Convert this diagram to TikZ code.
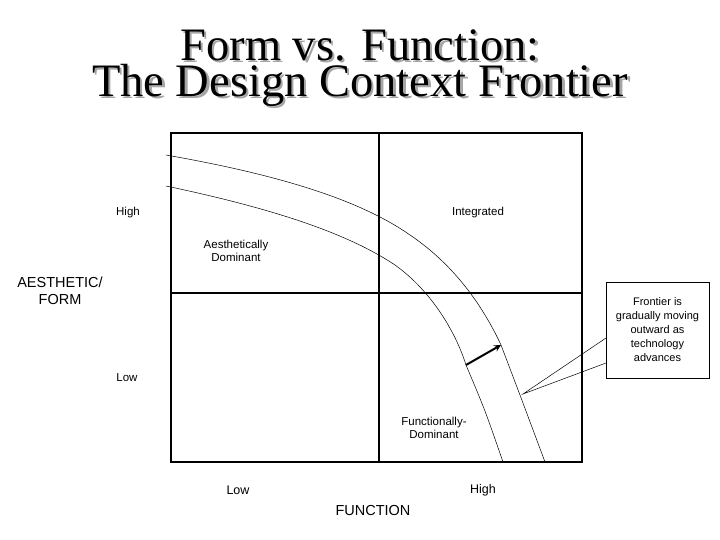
\documentclass[tikz,border=0pt]{standalone}
\usepackage{fontspec}
\setmainfont{Liberation Sans}
\newfontfamily\titlefont{Liberation Serif}
\begin{document}
\begin{tikzpicture}[x=1pt,y=-1pt,
  lbl/.style={font=\fontsize{11.5}{13.5}\selectfont, align=center, inner sep=0},
  big/.style={font=\fontsize{14.5}{17}\selectfont, align=center, inner sep=0},
  ttl/.style={font=\titlefont\fontsize{46.5}{36}\selectfont, align=center, inner sep=0},
  frame/.style={line width=1.6pt},
  curve/.style={line width=0.5pt}]
\useasboundingbox[fill=white] (0,0) rectangle (720,540);
\node[ttl, text=gray!70] (tsh) at (362.5,70.5) {Form vs. Function:\\The Design Context Frontier};
\node[ttl] (title) at (360,68) {Form vs. Function:\\The Design Context Frontier};
\draw[frame] (171,133) rectangle (582,462);
\draw[frame] (379,133) -- (379,462);
\draw[frame] (171,293) -- (582,293);
\draw[curve] (166,155) .. controls (280,175) and (360,200) .. (410,235)
  .. controls (450,262) and (480,300) .. (501,345) .. controls (520,395) .. (545,462);
\draw[curve] (166,186) .. controls (280,210) and (350,235) .. (395,265)
  .. controls (430,290) and (455,330) .. (466,365) .. controls (485,410) .. (503,462);
\coordinate (a1) at (466,365);
\coordinate (a2) at (501,345);
\draw[line width=2pt,-stealth] (a1) -- (a2);
\node[draw, line width=0.8pt, minimum width=103pt, minimum height=96pt, inner sep=0, font=\fontsize{11}{14}\selectfont, align=center, fill=white] (cb) at (657.5,330) {Frontier is\\gradually moving\\outward as\\technology\\advances};
\coordinate (tip) at (523,394);
\draw[line width=0.5pt] (606,338) -- (tip) -- (606,363);
\node[lbl] (h1) at (128,213) {High};
\node[lbl] (int) at (478,213) {Integrated};
\node[lbl] (ad) at (236,251) {Aesthetically\\Dominant};
\node[big] (af) at (60,291) {AESTHETIC/\\FORM};
\node[lbl] (l1) at (127,378) {Low};
\node[lbl] (fd) at (434,428) {Functionally-\\Dominant};
\node[lbl, font=\fontsize{12.5}{15}\selectfont] (xl) at (238,490) {Low};
\node[lbl, font=\fontsize{12.5}{15}\selectfont] (xh) at (483,490) {High};
\node[big] (fn) at (373,511) {FUNCTION};
\end{tikzpicture}
\end{document}
